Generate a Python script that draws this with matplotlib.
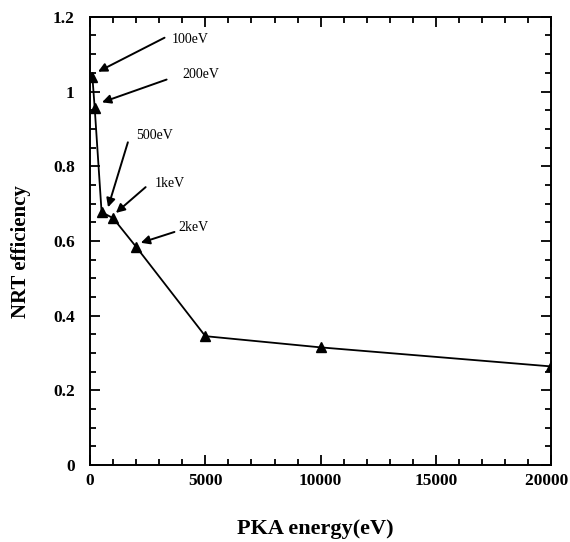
import matplotlib
matplotlib.use('Agg')
import matplotlib.pyplot as plt
from matplotlib.ticker import MultipleLocator

# PKA energy (eV) vs NRT efficiency
energy = [100, 200, 500, 1000, 2000, 5000, 10000, 20000]
efficiency = [1.04, 0.957, 0.677, 0.661, 0.584, 0.345, 0.315, 0.264]

# annotation labels: text, arrow head (data), arrow tail (data), text position
labels = ['100eV', '200eV', '500eV', '1keV', '2keV']
heads = [(345, 1.053), (517, 0.971), (780, 0.69), (1120, 0.675), (2200, 0.595)]
tails = [(3230, 1.144), (3320, 1.032), (1640, 0.864), (2410, 0.744), (3660, 0.624)]
text_pos = [(3530, 1.139), (4000, 1.045), (1980, 0.883), (2800, 0.755), (3840, 0.635)]

xticks = [0, 5000, 10000, 15000, 20000]
# trailing spaces keep the last label inside the figure edge
xticklabels = ['0', '5000', '10000', '15000', '20000  ']
yticks = [0, 0.2, 0.4, 0.6, 0.8, 1.0, 1.2]
yticklabels = ['0', '0.2', '0.4', '0.6', '0.8', '1', '1.2']

plt.rcParams['font.family'] = ['Liberation Serif', 'DejaVu Serif']

fig = plt.figure(figsize=(5.7, 5.42), dpi=100)
ax = fig.add_axes([0.158, 0.142, 0.809, 0.827])

ax.plot(energy, efficiency, color='black', lw=1.3, marker='^', ms=7)

for lab, h, t, tp in zip(labels, heads, tails, text_pos):
    ax.annotate('', xy=h, xytext=t,
                arrowprops=dict(arrowstyle='-|>', color='black', lw=1.4,
                                mutation_scale=13, shrinkA=0, shrinkB=0))
    ax.text(tp[0], tp[1], lab, fontsize=10, va='center', ha='left')

ax.set_xlim(0, 20000)
ax.set_ylim(0, 1.2)
ax.set_xticks(xticks)
ax.set_xticklabels(xticklabels)
ax.xaxis.set_minor_locator(MultipleLocator(1000))
ax.set_yticks(yticks)
ax.set_yticklabels(yticklabels)
ax.yaxis.set_minor_locator(MultipleLocator(0.05))
ax.tick_params(which='both', direction='in', top=True, right=True, width=1.3)
ax.tick_params(which='major', length=7, labelsize=12.5)
ax.tick_params(axis='x', which='major', pad=6)
ax.tick_params(axis='y', which='major', pad=11)
ax.tick_params(which='minor', length=4)
for lbl in ax.get_xticklabels() + ax.get_yticklabels():
    lbl.set_fontweight('bold')
for sp in ax.spines.values():
    sp.set_linewidth(1.4)

fig.text(315 / 570, 1 - 529 / 542, 'PKA energy(eV)', fontsize=16,
         fontweight='bold', ha='center', va='center')
fig.text(21 / 570, 1 - 252 / 542, 'NRT efficiency', fontsize=15,
         fontweight='bold', ha='center', va='center', rotation=90)

fig.savefig('out.png', dpi=100)
